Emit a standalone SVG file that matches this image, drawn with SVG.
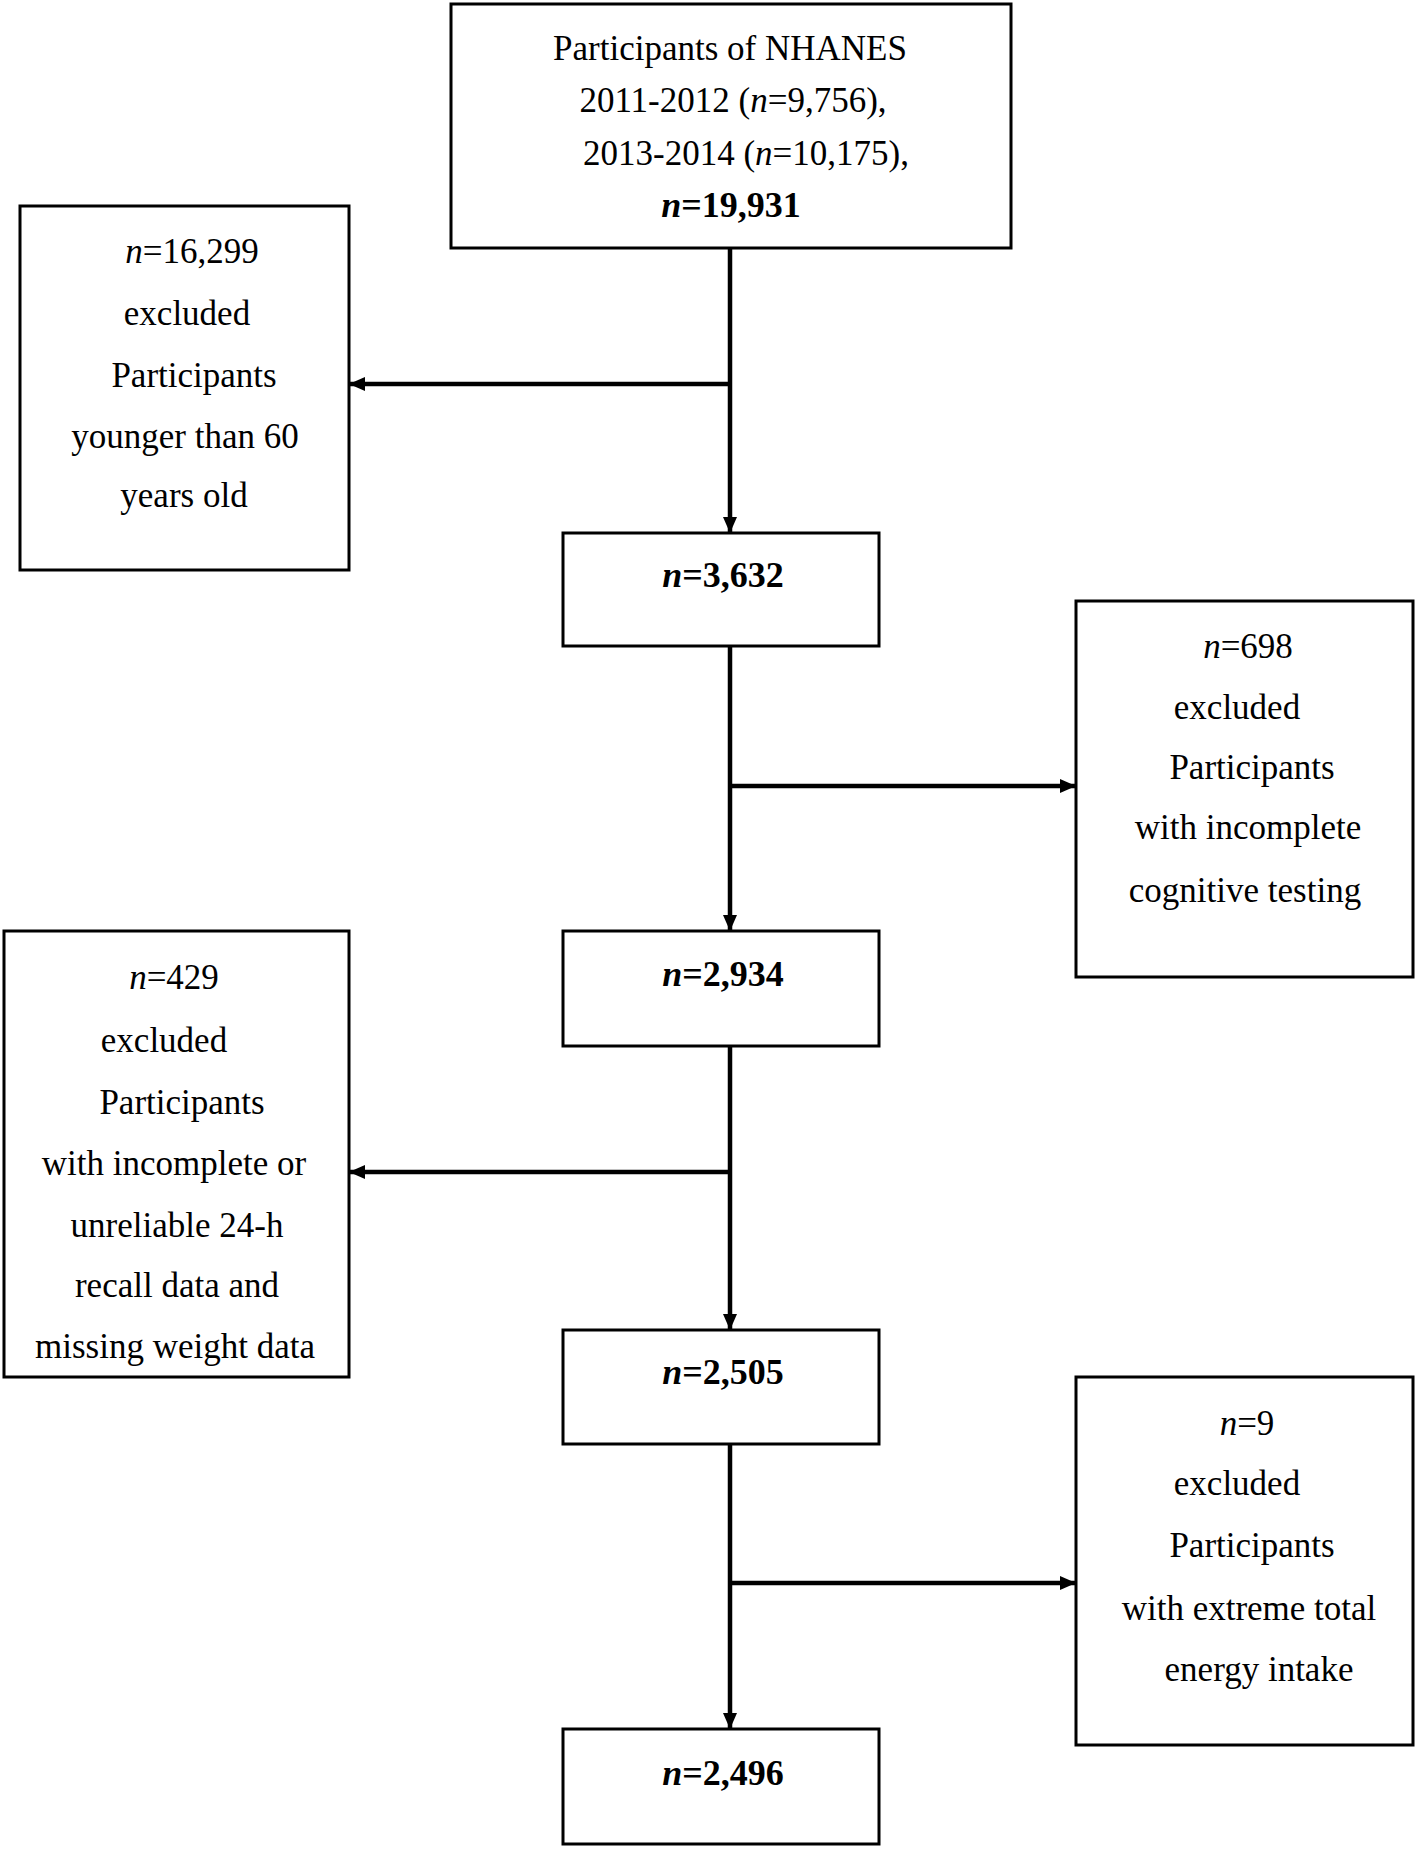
<svg xmlns="http://www.w3.org/2000/svg" width="1418" height="1849" viewBox="0 0 1418 1849">
<defs>
<marker id="ah" markerWidth="16" markerHeight="16" refX="15" refY="7" orient="auto" markerUnits="userSpaceOnUse">
<path d="M0,0 L16,7 L0,14 Z" fill="#000"/>
</marker>
<style>
.box{fill:#fff;stroke:#000;stroke-width:3}
.t{font-family:"Liberation Serif","Times New Roman",serif;font-size:35px;fill:#000;text-anchor:middle}
.b{font-weight:bold;font-size:36px}
.c{stroke:#000;stroke-width:4.5;fill:none}
</style>
</defs>
<rect width="1418" height="1849" fill="#fff"/>
<g id="connectors">
<line class="c" x1="730" y1="248" x2="730" y2="532" marker-end="url(#ah)"/>
<line class="c" x1="730" y1="384" x2="350" y2="384" marker-end="url(#ah)"/>
<line class="c" x1="730" y1="646" x2="730" y2="930" marker-end="url(#ah)"/>
<line class="c" x1="730" y1="786" x2="1075" y2="786" marker-end="url(#ah)"/>
<line class="c" x1="730" y1="1046" x2="730" y2="1329" marker-end="url(#ah)"/>
<line class="c" x1="730" y1="1172" x2="350" y2="1172" marker-end="url(#ah)"/>
<line class="c" x1="730" y1="1444" x2="730" y2="1728" marker-end="url(#ah)"/>
<line class="c" x1="730" y1="1583" x2="1075" y2="1583" marker-end="url(#ah)"/>
</g>
<g id="n0">
<rect class="box" x="451" y="4" width="560" height="244"/>
<text class="t" x="730" y="60">Participants of NHANES</text>
<text class="t" x="733" y="112">2011-2012 (<tspan font-style="italic">n</tspan>=9,756),</text>
<text class="t" x="746" y="165">2013-2014 (<tspan font-style="italic">n</tspan>=10,175),</text>
<text class="t b" x="731" y="217"><tspan font-style="italic">n</tspan>=19,931</text>
</g>
<g id="ex1">
<rect class="box" x="20" y="206" width="329" height="364"/>
<text class="t" x="192" y="263"><tspan font-style="italic">n</tspan>=16,299</text>
<text class="t" x="187" y="325">excluded</text>
<text class="t" x="194" y="387">Participants</text>
<text class="t" x="185" y="448">younger than 60</text>
<text class="t" x="184" y="507">years old</text>
</g>
<g id="n1">
<rect class="box" x="563" y="533" width="316" height="113"/>
<text class="t b" x="723" y="587"><tspan font-style="italic">n</tspan>=3,632</text>
</g>
<g id="ex2">
<rect class="box" x="1076" y="601" width="337" height="376"/>
<text class="t" x="1248" y="658"><tspan font-style="italic">n</tspan>=698</text>
<text class="t" x="1237" y="719">excluded</text>
<text class="t" x="1252" y="779">Participants</text>
<text class="t" x="1248" y="839">with incomplete</text>
<text class="t" x="1245" y="902">cognitive testing</text>
</g>
<g id="n2">
<rect class="box" x="563" y="931" width="316" height="115"/>
<text class="t b" x="723" y="986"><tspan font-style="italic">n</tspan>=2,934</text>
</g>
<g id="ex3">
<rect class="box" x="4" y="931" width="345" height="446"/>
<text class="t" x="174" y="989"><tspan font-style="italic">n</tspan>=429</text>
<text class="t" x="164" y="1052">excluded</text>
<text class="t" x="182" y="1114">Participants</text>
<text class="t" x="174" y="1175">with incomplete or</text>
<text class="t" x="177" y="1237">unreliable 24-h</text>
<text class="t" x="177" y="1297">recall data and</text>
<text class="t" x="175" y="1358">missing weight data</text>
</g>
<g id="n3">
<rect class="box" x="563" y="1330" width="316" height="114"/>
<text class="t b" x="723" y="1384"><tspan font-style="italic">n</tspan>=2,505</text>
</g>
<g id="ex4">
<rect class="box" x="1076" y="1377" width="337" height="368"/>
<text class="t" x="1247" y="1435"><tspan font-style="italic">n</tspan>=9</text>
<text class="t" x="1237" y="1495">excluded</text>
<text class="t" x="1252" y="1557">Participants</text>
<text class="t" x="1249" y="1620">with extreme total</text>
<text class="t" x="1259" y="1681">energy intake</text>
</g>
<g id="n4">
<rect class="box" x="563" y="1729" width="316" height="115"/>
<text class="t b" x="723" y="1785"><tspan font-style="italic">n</tspan>=2,496</text>
</g>
</svg>
